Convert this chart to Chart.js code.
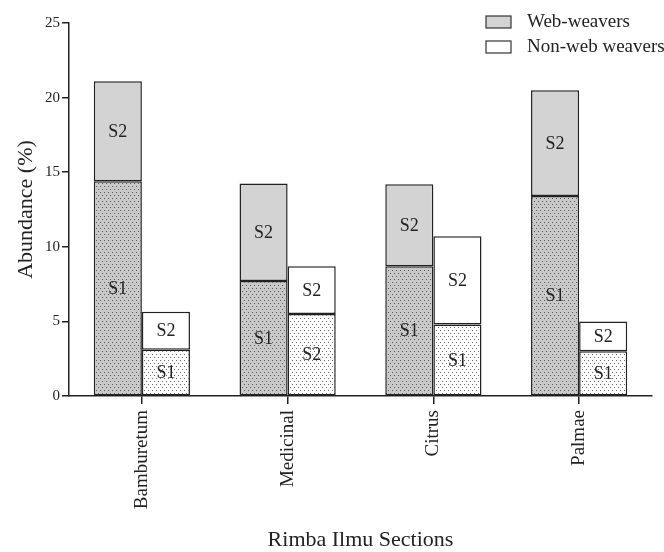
<!DOCTYPE html>
<html>
<head>
<meta charset="utf-8">
<script src="https://cdn.jsdelivr.net/npm/chart.js@4/dist/chart.umd.min.js"></script>
<style>
  html, body { margin: 0; padding: 0; background: #fff; }
  #box { width: 664px; height: 552px; }
</style>
</head>
<body>
<div id="box"><canvas id="c" width="664" height="552"></canvas></div>
<script>
/* ---------- data ---------- */
var categories = ['Bamburetum', 'Medicinal', 'Citrus', 'Palmae'];
var seriesNames = ['Web-weavers', 'Non-web weavers'];
var webS1 = [14.4, 7.7, 8.7, 13.4];
var webS2 = [6.7, 6.55, 5.5, 7.1];
var nonS1 = [3.1, 5.5, 4.8, 3.0];
var nonS2 = [2.55, 3.2, 5.9, 2.0];
// text printed inside each segment (Medicinal's lower segment reads "S2" in the source)
var webS1Tags = ['S1', 'S1', 'S1', 'S1'];
var webS2Tags = ['S2', 'S2', 'S2', 'S2'];
var nonS1Tags = ['S1', 'S2', 'S1', 'S1'];
var nonS2Tags = ['S2', 'S2', 'S2', 'S2'];
var yMax = 25, yStep = 5;

var SERIF = "'Liberation Serif', 'Times New Roman', serif";
var INK = '#222';

var canvas = document.getElementById('c');
var ctx = canvas.getContext('2d');

function dots(bg, dot) {
  var t = document.createElement('canvas');
  t.width = 4; t.height = 6;
  var x = t.getContext('2d');
  x.fillStyle = bg; x.fillRect(0, 0, 4, 6);
  x.fillStyle = dot;
  x.fillRect(0, 0, 1, 1);
  x.fillRect(2, 3, 1, 1);
  return ctx.createPattern(t, 'repeat');
}

var webGray = '#d3d3d3';
var webDots = dots('#c9c9c9', '#5a5a5a');
var nonDots = dots('#ffffff', '#6a6a6a');

/* ---------- segment labels ---------- */
var segLabels = {
  id: 'segLabels',
  afterDatasetsDraw: function (chart) {
    var c = chart.ctx;
    c.save();
    c.font = '18px ' + SERIF;
    c.fillStyle = INK;
    c.textAlign = 'center';
    c.textBaseline = 'middle';
    chart.data.datasets.forEach(function (ds, i) {
      var meta = chart.getDatasetMeta(i);
      meta.data.forEach(function (bar, j) {
        c.fillText(ds.tags[j], bar.x, (bar.y + bar.base) / 2 + 1);
      });
    });
    c.restore();
  }
};

/* ---------- legend top-right ---------- */
var cornerLegend = {
  id: 'cornerLegend',
  afterDraw: function (chart) {
    var c = chart.ctx;
    var fills = [webGray, '#ffffff'];
    c.save();
    c.font = '19px ' + SERIF;
    c.textBaseline = 'middle';
    c.textAlign = 'left';
    seriesNames.forEach(function (name, i) {
      var y = 16 + i * 25;
      c.fillStyle = fills[i];
      c.fillRect(486, y, 25, 12);
      c.strokeStyle = '#333';
      c.lineWidth = 1.2;
      c.strokeRect(486, y, 25, 12);
      c.fillStyle = INK;
      c.fillText(name, 527, y + 6);
    });
    c.restore();
  }
};

function seg(label, data, stack, fill, tags) {
  return {
    label: label, data: data, stack: stack, tags: tags,
    backgroundColor: fill, borderColor: INK, borderWidth: 1.5, borderSkipped: false,
    categoryPercentage: 0.66, barPercentage: 1.0
  };
}

new Chart(ctx, {
  type: 'bar',
  data: {
    labels: categories,
    datasets: [
      seg('Web-weavers S1', webS1, 'web', webDots, webS1Tags),
      seg('Web-weavers S2', webS2, 'web', webGray, webS2Tags),
      seg('Non-web weavers S1', nonS1, 'non', nonDots, nonS1Tags),
      seg('Non-web weavers S2', nonS2, 'non', '#ffffff', nonS2Tags)
    ]
  },
  options: {
    responsive: false,
    animation: false,
    devicePixelRatio: 1,
    layout: { padding: { top: 23, right: 12, left: 0, bottom: 0 } },
    plugins: { legend: { display: false }, tooltip: { enabled: false } },
    scales: {
      x: {
        stacked: true,
        offset: true,
        afterFit: function (s) { s.height = 156; },
        grid: { offset: false, drawOnChartArea: false, drawTicks: true, tickLength: 8, color: INK, lineWidth: 1.5 },
        border: { display: true, color: INK, width: 1.5 },
        ticks: { color: INK, font: { family: SERIF, size: 19 }, maxRotation: 90, minRotation: 90, padding: 6 },
        title: { display: true, text: 'Rimba Ilmu Sections', color: INK, font: { family: SERIF, size: 22, lineHeight: 1 }, padding: { top: 0, bottom: 1 } }
      },
      y: {
        stacked: true,
        min: 0, max: yMax,
        afterFit: function (s) { s.width = 69; },
        grid: { drawOnChartArea: false, drawTicks: true, tickLength: 7, color: INK, lineWidth: 1.5 },
        border: { display: true, color: INK, width: 1.5 },
        ticks: { stepSize: yStep, color: INK, font: { family: SERIF, size: 15 }, padding: 2 },
        title: { display: true, text: 'Abundance (%)', color: INK, font: { family: SERIF, size: 22, lineHeight: 1 }, padding: { top: 15, bottom: 0 } }
      }
    }
  },
  plugins: [segLabels, cornerLegend]
});
</script>
</body>
</html>
